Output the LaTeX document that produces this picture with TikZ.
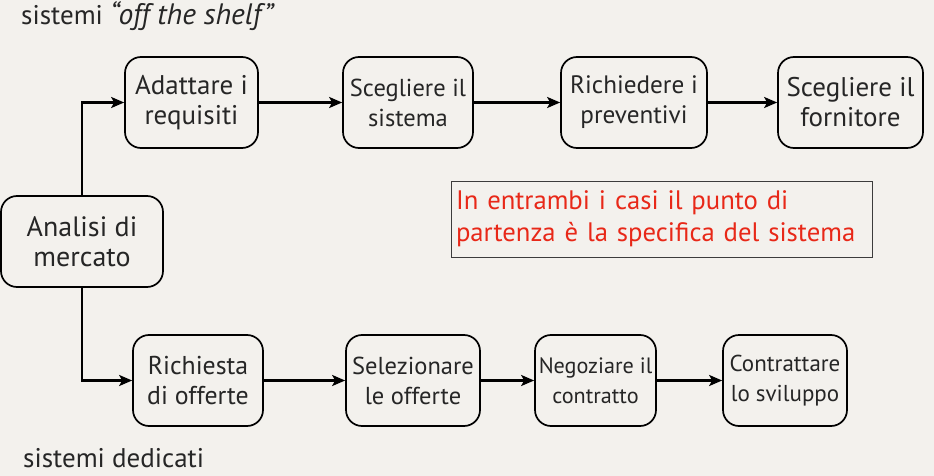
\documentclass[tikz,border=0pt]{standalone}
\usepackage{fontspec}
\setmainfont{PT Sans}
\usetikzlibrary{arrows.meta}
\definecolor{bg}{RGB}{243,241,237}
\definecolor{redtxt}{RGB}{232,40,24}
\definecolor{boxgray}{RGB}{60,60,60}
\newcommand{\fsz}[1]{\fontsize{#1}{30}\selectfont}
\begin{document}
\begin{tikzpicture}[x=1pt,y=-1pt,
  stepbox/.style={draw=black,line width=1.7pt,rounded corners=16pt,minimum height=91pt,align=center,inner sep=0pt,text=black!85},
  flow/.style={line width=2.2pt,-{Stealth[length=13pt,width=11pt,inset=3pt]}}]
\fill[bg] (0,0) rectangle (934,476);
\useasboundingbox (0,0) rectangle (934,476);
\node[anchor=base west,font=\fsz{27},text=black!85,inner sep=0pt] (hdr) at (21,25) {sistemi {\fontsize{29.5}{30}\selectfont\itshape “off the shelf”}};
\node[anchor=base west,font=\fsz{27},text=black!85,inner sep=0pt] (ftr) at (23,467) {sistemi dedicati};
% top row
\node[stepbox,font=\fsz{27},minimum width=133pt] (A) at (191.5,102.5) {Adattare i\\requisiti};
\node[stepbox,font=\fsz{24.5},minimum width=130pt] (S) at (408,102.5) {Scegliere il\\sistema};
\node[stepbox,font=\fsz{25.2},minimum width=146pt] (R) at (634,102.5) {Richiedere i\\preventivi};
\node[stepbox,font=\fsz{27},minimum width=145pt] (F) at (850.5,102.5) {Scegliere il\\fornitore};
% left
\node[stepbox,font=\fsz{28},minimum width=162pt] (M) at (82,241.5) {Analisi di\\mercato};
% bottom row
\node[stepbox,font=\fsz{25.8},minimum width=130pt] (Q) at (198,380.5) {Richiesta\\di offerte};
\node[stepbox,font=\fsz{24.5},minimum width=134pt] (L) at (413,380.5) {Selezionare\\le offerte};
\node[stepbox,font=\fsz{22.2},minimum width=121pt] (N) at (595.5,380.5) {Negoziare il\\contratto};
\node[stepbox,font=\fsz{23},minimum width=124pt] (C) at (785,380.5) {Contrattare\\lo sviluppo};
% note
\node[draw=boxgray,line width=1pt,minimum width=421pt,minimum height=76pt,inner xsep=5pt,inner ysep=0pt,text width=411pt,align=left,text=redtxt,font=\fontsize{26.7}{32}\selectfont] (note) at (661.5,219) {In entrambi i casi il punto di\\partenza è la specifica del sistema};
% connectors
\draw[flow] (A) -- (S);
\draw[flow] (S) -- (R);
\draw[flow] (R) -- (F);
\draw[flow] (Q) -- (L);
\draw[flow] (L) -- (N);
\draw[flow] (N) -- (C);
\draw[flow] (M.north) |- (A.west);
\draw[flow] (M.south) |- (Q.west);
\end{tikzpicture}
\end{document}
